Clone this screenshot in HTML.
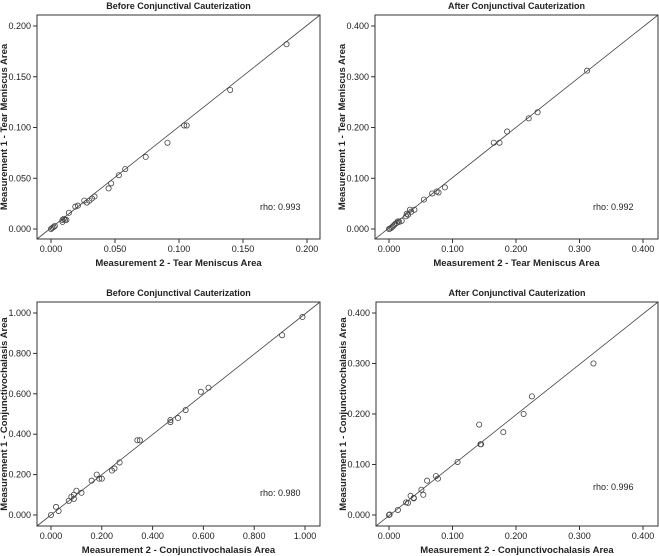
<!DOCTYPE html>
<html><head><meta charset="utf-8"><style>
html,body{margin:0;padding:0;background:#fff;width:659px;height:556px;overflow:hidden}
svg text{font-family:"Liberation Sans",Arial,sans-serif;fill:#222}
</style></head><body>
<svg id="s" width="659" height="556" xmlns="http://www.w3.org/2000/svg"></svg>
<script>
const S=document.getElementById('s');let h='';
function panel(o){
 const {bx0,bx1,by0,by1,x0,x1,y0,y1,max,ticks,title,xl,yl,rho,rx,ry,pts,dec}=o;
 const X=v=>x0+(x1-x0)*v/max, Y=v=>y0+(y1-y0)*v/max;
 h+=`<rect x="${bx0}" y="${by0}" width="${bx1-bx0}" height="${by1-by0}" fill="none" stroke="#333" stroke-width="1"/>`;
 h+=`<line x1="${bx0}" y1="${by1}" x2="${bx1}" y2="${by0}" stroke="#444" stroke-width="0.8"/>`;
 ticks.forEach(t=>{const xs=X(t),ys=Y(t);
  h+=`<line x1="${xs}" y1="${by1}" x2="${xs}" y2="${by1+4}" stroke="#333"/>`;
  h+=`<text x="${xs}" y="${by1+13}" font-size="9" text-anchor="middle">${t.toFixed(3)}</text>`;
  h+=`<line x1="${bx0-4}" y1="${ys}" x2="${bx0}" y2="${ys}" stroke="#333"/>`;
  h+=`<text x="${bx0-6}" y="${ys+3}" font-size="9" text-anchor="end">${t.toFixed(3)}</text>`;});
 h+=`<text x="${(bx0+bx1)/2}" y="${by0-6}" font-size="9" font-weight="bold" text-anchor="middle">${title}</text>`;
 h+=`<text x="${(bx0+bx1)/2}" y="${by1+27}" font-size="9.5" font-weight="bold" text-anchor="middle">${xl}</text>`;
 const cy=(by0+by1)/2, lx=bx0-30;
 h+=`<text x="${lx}" y="${cy}" font-size="9.5" font-weight="bold" text-anchor="middle" transform="rotate(-90 ${lx} ${cy})">${yl}</text>`;
 h+=`<text x="${rx}" y="${ry}" font-size="9">rho: ${rho}</text>`;
 for(let i=0;i<pts.length;i+=2)h+=`<circle cx="${X(pts[i])}" cy="${Y(pts[i+1])}" r="2.6" fill="none" stroke="#444" stroke-width="0.8"/>`;
}
panel({bx0:37,bx1:320,by0:15,by1:239,x0:51,x1:307,y0:229,y1:26,max:0.2,ticks:[0,0.05,0.1,0.15,0.2],
 title:"Before Conjunctival Cauterization",xl:"Measurement 2 - Tear Meniscus Area",yl:"Measurement 1 - Tear Meniscus Area",rho:"0.993",rx:260,ry:210,
 pts:[0,0,0.001,0.001,0.002,0.002,0.003,0.003,0.009,0.007,0.009,0.009,0.010,0.010,0.011,0.009,0.012,0.009,0.014,0.016,0.019,0.022,0.021,0.023,0.026,0.028,0.028,0.026,0.030,0.028,0.032,0.030,0.034,0.032,0.045,0.040,0.047,0.045,0.053,0.053,0.058,0.059,0.074,0.071,0.091,0.085,0.104,0.102,0.106,0.102,0.140,0.137,0.184,0.182]});
panel({bx0:375,bx1:658,by0:15,by1:239,x0:389,x1:643,y0:229,y1:26,max:0.4,ticks:[0,0.1,0.2,0.3,0.4],
 title:"After Conjunctival Cauterization",xl:"Measurement 2 - Tear Meniscus Area",yl:"Measurement 1  - Tear Meniscus Area",rho:"0.992",rx:593,ry:210,
 pts:[0,0,0.002,0.001,0.004,0.003,0.006,0.005,0.008,0.008,0.01,0.01,0.012,0.012,0.014,0.015,0.016,0.014,0.02,0.016,0.027,0.025,0.028,0.03,0.03,0.028,0.033,0.038,0.035,0.034,0.04,0.038,0.055,0.058,0.068,0.07,0.075,0.074,0.078,0.072,0.088,0.082,0.165,0.17,0.174,0.17,0.186,0.192,0.22,0.218,0.234,0.23,0.312,0.312]});
panel({bx0:37,bx1:320,by0:302,by1:526,x0:51,x1:305,y0:515,y1:313,max:1,ticks:[0,0.2,0.4,0.6,0.8,1],
 title:"Before Conjunctival Cauterization",xl:"Measurement 2 - Conjunctivochalasis Area",yl:"Measurement 1 - Conjunctivochalasis Area",rho:"0.980",rx:260,ry:496,
 pts:[0,0,0.02,0.04,0.03,0.02,0.07,0.07,0.08,0.09,0.09,0.1,0.09,0.08,0.1,0.12,0.12,0.11,0.16,0.17,0.18,0.2,0.19,0.18,0.2,0.18,0.24,0.22,0.25,0.23,0.27,0.26,0.34,0.37,0.35,0.37,0.47,0.47,0.47,0.46,0.5,0.48,0.53,0.52,0.59,0.61,0.62,0.63,0.91,0.89,0.99,0.98]});
panel({bx0:376,bx1:658,by0:302,by1:526,x0:389,x1:643,y0:515,y1:313,max:0.4,ticks:[0,0.1,0.2,0.3,0.4],
 title:"After Conjunctival Cauterization",xl:"Measurement 2 - Conjunctivochalasis Area",yl:"Measurement 1 - Conjunctivochalasis Area",rho:"0.996",rx:593,ry:490,
 pts:[0,0,0.001,0.001,0.014,0.01,0.027,0.025,0.030,0.024,0.034,0.038,0.039,0.034,0.039,0.033,0.051,0.05,0.054,0.04,0.060,0.068,0.074,0.077,0.077,0.072,0.108,0.105,0.142,0.179,0.144,0.14,0.145,0.14,0.180,0.164,0.212,0.2,0.225,0.235,0.322,0.3]});
S.innerHTML=h;
</script>
</body></html>
